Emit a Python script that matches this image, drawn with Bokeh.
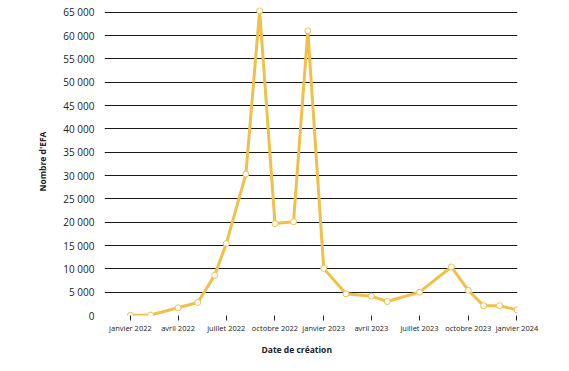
import pandas as pd
from bokeh.plotting import figure
from bokeh.models import FixedTicker, Range1d, ColumnDataSource, Title
from bokeh.embed import file_html
from bokeh.resources import INLINE

# Data
dates = ["2022-01-01", "2022-02-08", "2022-04-01", "2022-05-08", "2022-06-09",
         "2022-07-01", "2022-08-07", "2022-09-02", "2022-10-01", "2022-11-05",
         "2022-12-02", "2023-01-01", "2023-02-12", "2023-04-01", "2023-05-01",
         "2023-07-01", "2023-08-30", "2023-10-01", "2023-10-30", "2023-11-29",
         "2024-01-01"]
values = [50, 100, 1650, 2800, 8600,
          15400, 30300, 65300, 19700, 20100,
          61000, 10100, 4650, 4150, 3000,
          5000, 10400, 5400, 2100, 2100,
          1200]
tick_dates = ["2022-01-01", "2022-04-01", "2022-07-01", "2022-10-01", "2023-01-01",
              "2023-04-01", "2023-07-01", "2023-10-01", "2024-01-01"]
tick_labels = ["janvier 2022", "avril 2022", "juillet 2022", "octobre 2022", "janvier 2023",
               "avril 2023", "juillet 2023", "octobre 2023", "janvier 2024"]
y_ticks = list(range(0, 65001, 5000))
y_labels = [f"{v:,}".replace(",", " ") for v in y_ticks]

x = pd.to_datetime(dates)
src = ColumnDataSource(dict(x=x, y=values))

x_start = pd.Timestamp("2022-01-01") - pd.Timedelta(days=49)
x_end = pd.Timestamp("2024-01-01") + pd.Timedelta(days=1)

p = figure(width=569, height=371, x_axis_type="datetime",
           output_backend="svg", toolbar_location=None,
           x_range=Range1d(x_start, x_end), y_range=Range1d(0, 66000),
           min_border_left=104, min_border_right=52, min_border_top=7, min_border_bottom=56)
p.outline_line_color = None
p.background_fill_color = "white"

FONT = "Open Sans"

tick_ms = [pd.Timestamp(d).value / 1e6 for d in tick_dates]
p.xaxis.ticker = FixedTicker(ticks=tick_ms)
p.xaxis.major_label_overrides = {t: l for t, l in zip(tick_ms, tick_labels)}
p.xaxis.axis_line_color = None
p.xaxis.major_tick_line_color = "#222222"
p.xaxis.major_tick_out = 5
p.xaxis.major_tick_in = 0
p.xaxis.minor_tick_line_color = None
p.xaxis.major_label_text_font = FONT
p.xaxis.major_label_text_font_size = "7.5px"
p.xaxis.major_label_text_color = "#222222"
p.xaxis.major_label_standoff = 2

xt = Title(text="Date de création", align="left", offset=157,
           text_font=FONT, text_font_size="8.5px", text_font_style="bold",
           text_color="#222222", standoff=12)
p.add_layout(xt, "below")

p.yaxis.ticker = FixedTicker(ticks=y_ticks)
p.yaxis.major_label_overrides = {t: l for t, l in zip(y_ticks, y_labels)}
p.yaxis.axis_line_color = None
p.yaxis.major_tick_line_color = None
p.yaxis.minor_tick_line_color = None
p.yaxis.major_label_text_font = FONT
p.yaxis.major_label_text_font_size = "10px"
p.yaxis.major_label_text_color = "#222222"
p.yaxis.major_label_standoff = 4
p.yaxis.axis_label = "Nombre d'EFA"
p.yaxis.axis_label_text_font = FONT
p.yaxis.axis_label_text_font_size = "8.5px"
p.yaxis.axis_label_text_font_style = "bold"
p.yaxis.axis_label_text_color = "#222222"
p.yaxis.axis_label_standoff = 12

p.xgrid.grid_line_color = None
p.ygrid.grid_line_color = "#1a1a1a"
p.ygrid.grid_line_width = 1

color = "#F0C048"
p.line("x", "y", source=src, line_color=color, line_width=3)
p.scatter("x", "y", source=src, size=6, fill_color="white", line_color=color, line_width=1)

open("out.html", "w").write(file_html(p, INLINE))
